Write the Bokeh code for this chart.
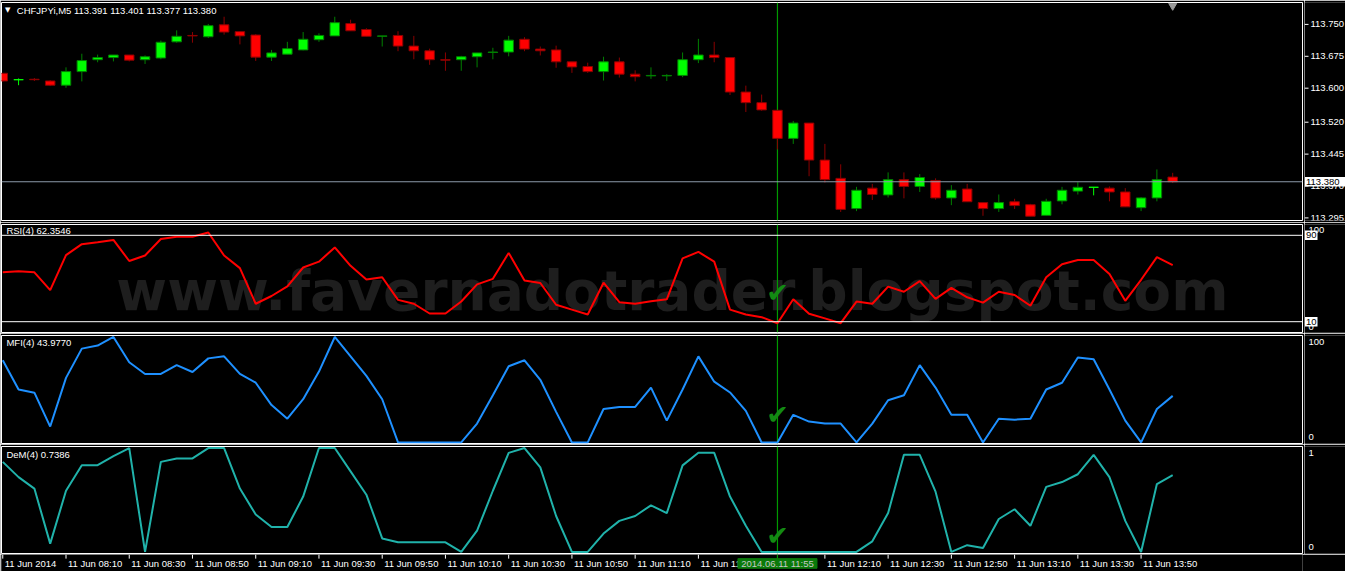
from bokeh.plotting import figure
from bokeh.models import Range1d, Span, Label
from bokeh.layouts import column, row
from bokeh.embed import file_html
from bokeh.resources import INLINE
from bokeh.core.properties import value

# ---------------- data ----------------
symbol = "CHFJPYi,M5"
bar_open = [113.635, 113.620, 113.621, 113.617, 113.607, 113.639, 113.667, 113.672, 113.678, 113.667,
            113.671, 113.709, 113.724, 113.721, 113.749, 113.733, 113.725, 113.673, 113.680, 113.690,
            113.714, 113.723, 113.752, 113.738, 113.722, 113.724, 113.699, 113.688, 113.667, 113.667,
            113.674, 113.684, 113.685, 113.715, 113.692, 113.690, 113.662, 113.651, 113.639, 113.662,
            113.633, 113.629, 113.629, 113.630, 113.667, 113.678, 113.672, 113.591, 113.566, 113.548,
            113.482, 113.518, 113.431, 113.388, 113.317, 113.365, 113.349, 113.385, 113.369, 113.383,
            113.342, 113.363, 113.331, 113.317, 113.333, 113.326, 113.301, 113.335, 113.358, 113.367,
            113.365, 113.356, 113.319, 113.342, 113.391]
bar_high = [113.635, 113.623, 113.624, 113.619, 113.649, 113.681, 113.679, 113.678, 113.678, 113.677,
            113.712, 113.736, 113.732, 113.751, 113.768, 113.733, 113.727, 113.690, 113.709, 113.732,
            113.729, 113.768, 113.761, 113.741, 113.723, 113.734, 113.723, 113.693, 113.684, 113.676,
            113.683, 113.695, 113.723, 113.720, 113.698, 113.700, 113.662, 113.660, 113.674, 113.672,
            113.642, 113.649, 113.633, 113.684, 113.716, 113.709, 113.672, 113.606, 113.585, 113.548,
            113.523, 113.518, 113.469, 113.421, 113.368, 113.375, 113.402, 113.402, 113.398, 113.388,
            113.372, 113.375, 113.331, 113.350, 113.340, 113.328, 113.340, 113.368, 113.379, 113.367,
            113.369, 113.365, 113.344, 113.409, 113.401]
bar_low = [113.615, 113.607, 113.617, 113.605, 113.601, 113.616, 113.661, 113.663, 113.663, 113.657,
           113.668, 113.707, 113.707, 113.718, 113.726, 113.703, 113.664, 113.664, 113.680, 113.689,
           113.709, 113.723, 113.735, 113.722, 113.698, 113.687, 113.668, 113.655, 113.641, 113.641,
           113.649, 113.668, 113.675, 113.687, 113.677, 113.648, 113.636, 113.636, 113.618, 113.625,
           113.616, 113.622, 113.617, 113.626, 113.659, 113.661, 113.584, 113.544, 113.547, 113.456,
           113.469, 113.393, 113.378, 113.309, 113.311, 113.337, 113.343, 113.341, 113.356, 113.338,
           113.325, 113.333, 113.300, 113.309, 113.316, 113.299, 113.301, 113.327, 113.350, 113.348,
           113.334, 113.321, 113.311, 113.334, 113.377]
bar_close = [113.617, 113.620, 113.620, 113.607, 113.639, 113.665, 113.672, 113.678, 113.666, 113.674,
             113.708, 113.722, 113.723, 113.747, 113.732, 113.723, 113.673, 113.683, 113.693, 113.715,
             113.724, 113.754, 113.735, 113.722, 113.723, 113.699, 113.688, 113.667, 113.666, 113.674,
             113.683, 113.685, 113.713, 113.692, 113.688, 113.662, 113.650, 113.639, 113.662, 113.633,
             113.627, 113.630, 113.630, 113.667, 113.678, 113.672, 113.591, 113.566, 113.549, 113.482,
             113.518, 113.431, 113.385, 113.315, 113.360, 113.350, 113.385, 113.369, 113.390, 113.342,
             113.360, 113.333, 113.317, 113.331, 113.324, 113.299, 113.334, 113.360, 113.367, 113.367,
             113.356, 113.321, 113.342, 113.385, 113.380]
rsi = [55.7, 56.6, 55.7, 39.2, 71.6, 81.8, 83.6, 85.7, 66.2, 71.3,
       86.6, 88.7, 88.7, 92.6, 71.3, 59.6, 26.6, 33.8, 42.8, 60.2,
       65.6, 78.8, 61.7, 49.1, 51.2, 30.2, 26.6, 17.6, 17.6, 28.7,
       44.6, 49.7, 73.7, 48.2, 45.8, 25.7, 21.2, 16.7, 46.1, 28.1,
       26.6, 28.9, 30.7, 68.6, 74.6, 65.6, 21.2, 16.7, 14.2, 8.6,
       30.8, 17.3, 13.1, 8.6, 28.6, 26.6, 42.5, 37.7, 47.6, 31.1,
       41.3, 32.6, 27.7, 37.7, 34.7, 24.8, 51.2, 63.2, 67.1, 67.1,
       54.2, 29.3, 48.8, 69.8, 62.3546]
mfi = [77.6, 50.0, 47.0, 15.0, 61.0, 88.6, 91.5, 99.6, 75.7, 64.7,
       64.7, 73.0, 66.5, 79.4, 81.3, 64.7, 56.4, 35.3, 22.4, 40.8,
       66.9, 99.6, 81.3, 62.9, 40.8, 0.0, 0.0, 0.0, 0.0, 0.0,
       17.8, 44.5, 72.0, 77.6, 59.2, 28.9, 0.0, 0.0, 31.6, 33.5,
       33.5, 51.8, 20.6, 50.0, 81.3, 57.4, 47.2, 29.8, 0.0, 0.0,
       26.1, 19.7, 17.8, 17.8, 0.0, 17.8, 39.9, 44.5, 73.0, 51.8,
       26.1, 26.1, 0.0, 22.4, 21.5, 22.4, 50.0, 56.4, 80.3, 78.5,
       50.0, 20.6, 0.0, 31.6, 43.9770]
dem = [0.867, 0.72, 0.61, 0.08, 0.589, 0.835, 0.835, 0.923, 1.0, 0.0,
       0.867, 0.90, 0.90, 1.0, 1.0, 0.61, 0.36, 0.24, 0.24, 0.533,
       1.0, 1.0, 0.776, 0.551, 0.13, 0.093, 0.093, 0.093, 0.093, 0.0,
       0.205, 0.589, 0.954, 1.0, 0.814, 0.346, 0.0, 0.0, 0.177, 0.299,
       0.346, 0.449, 0.374, 0.833, 0.954, 0.954, 0.533, 0.252, 0.0, 0.0,
       0.0, 0.0, 0.0, 0.0, 0.0, 0.102, 0.374, 0.935, 0.935, 0.58,
       0.0, 0.065, 0.037, 0.317, 0.411, 0.252, 0.626, 0.673, 0.748, 0.935,
       0.72, 0.299, 0.0, 0.654, 0.7386]
price_ticks = [113.295, 113.370, 113.445, 113.520, 113.600, 113.675, 113.750]
time_tick_bars = [0, 4, 8, 12, 16, 20, 24, 28, 32, 36, 40, 44, 48, 52, 56, 60, 64, 68, 72]
time_tick_labels = ["11 Jun 2014", "11 Jun 08:10", "11 Jun 08:30", "11 Jun 08:50", "11 Jun 09:10",
                    "11 Jun 09:30", "11 Jun 09:50", "11 Jun 10:10", "11 Jun 10:30", "11 Jun 10:50",
                    "11 Jun 11:10", "11 Jun 11:30", "11 Jun 11:50", "11 Jun 12:10", "11 Jun 12:30",
                    "11 Jun 12:50", "11 Jun 13:10", "11 Jun 13:30", "11 Jun 13:50"]
marked_bar = 49
marked_label = "2014.06.11 11:55"
rsi_levels = [90, 10]
watermark = "www.favernadotrader.blogspot.com"

# ---------------- layout helpers ----------------
W = 1345
PW = 1304          # pane figure width (frame 1..1302)
SW = W - PW        # side (price scale) figure width
FONT = "Liberation Sans"
FS = "9.5px"
VCOL = "#009A00"
xr = Range1d(-0.08, 82.21)
n = len(bar_open)
idx = list(range(n))


def bx(px):
    """reference-pixel x -> bar units"""
    return (px - 2.3) / 16.0


def hide_grid(f):
    f.xgrid.visible = False
    f.ygrid.visible = False


def pane(height, top, bottom, yr):
    f = figure(width=PW, height=height, x_range=xr, y_range=yr,
               output_backend="svg", toolbar_location=None,
               x_axis_location=None, y_axis_location=None,
               min_border_left=1, min_border_right=2,
               min_border_top=top, min_border_bottom=bottom,
               background_fill_color="black", border_fill_color="black",
               outline_line_color="white", outline_line_width=1)
    hide_grid(f)
    return f


def side(height, top, bottom, yr):
    s = figure(width=SW, height=height, x_range=Range1d(2, 2 + SW), y_range=yr,
               output_backend="svg", toolbar_location=None,
               x_axis_location=None, y_axis_location=None,
               min_border_left=0, min_border_right=0,
               min_border_top=top, min_border_bottom=bottom,
               background_fill_color="black", border_fill_color="black",
               outline_line_color=None)
    hide_grid(s)
    return s


def scale_text(s, ys, labels, x, color="white"):
    s.text(x=[x] * len(ys), y=ys, text=labels, text_color=color,
           text_font=value(FONT), text_font_size=FS,
           text_align="left", text_baseline="middle")


def value_box(s, y, txt, right, half_h):
    s.quad(left=[2.5], right=[right], top=[y + half_h], bottom=[y - half_h],
           fill_color="white", line_color=None)
    scale_text(s, [y], [txt], 3.5, color="black")


def title(f, text, x, y):
    f.add_layout(Label(x=x, y=y, text=text, text_color="white", text_font=FONT,
                       text_font_size=FS, text_baseline="middle", text_align="left"))


def vline(f, yr):
    f.segment(x0=[marked_bar], y0=[yr.start], x1=[marked_bar], y1=[yr.end],
              line_color=VCOL, line_width=1.2)


def check(f, y):
    f.text(x=[marked_bar], y=[y], text=["\u2714"], text_color="#138A13",
           text_font=value("DejaVu Sans"), text_font_size="27px",
           text_align="center", text_baseline="middle")


# ---------------- price pane ----------------
p_lo, p_hi = 113.2889, 113.8015
yr_p = Range1d(p_lo, p_hi)
pp = pane(222, 2, 2, yr_p)
ppx = (p_hi - p_lo) / 218.0

fill, body_line, wick_col, tops, bots = [], [], [], [], []
for o, c in zip(bar_open, bar_close):
    if c > o:
        fill.append("#00FF00"); body_line.append("#008000"); wick_col.append("#008000")
    elif c < o:
        fill.append("#FF0000"); body_line.append("#8B0000"); wick_col.append("#8B0000")
    else:
        fill.append("#00FF00"); body_line.append("#00FF00"); wick_col.append("#00FF00")
    tops.append(max(o, c)); bots.append(min(o, c))

pp.add_layout(Span(location=bar_close[-1], dimension="width", line_color="#8C9AAA", line_width=1))
vline(pp, yr_p)
pp.segment(x0=idx, y0=bar_low, x1=idx, y1=bar_high, line_color=wick_col, line_width=1)
hw = 0.3
pp.quad(left=[i - hw for i in idx], right=[i + hw for i in idx], top=tops, bottom=bots,
        fill_color=fill, line_color=body_line, line_width=1)
pp.scatter(x=[n - 1], y=[p_hi - 3.2 * ppx], marker="inverted_triangle", size=8,
           fill_color="#9A9A9A", line_color="#9A9A9A")
pp.add_layout(Label(x=bx(4.5), y=p_hi - 7.5 * ppx, text="\u25BC", text_color="white",
                    text_font="DejaVu Sans", text_font_size="7px", text_baseline="middle"))
title(pp, f"{symbol}  {bar_open[-1]:.3f} {bar_high[-1]:.3f} {bar_low[-1]:.3f} {bar_close[-1]:.3f}",
      bx(16.5), p_hi - 7.8 * ppx)

sp = side(222, 2, 2, yr_p)
sp.segment(x0=[2] * len(price_ticks), y0=price_ticks, x1=[6] * len(price_ticks), y1=price_ticks,
           line_color="white", line_width=1)
scale_text(sp, price_ticks, [f"{t:.3f}" for t in price_ticks], 8)
value_box(sp, bar_close[-1], f"{bar_close[-1]:.3f}", 2 + SW, 4.8 * ppx)

# ---------------- RSI pane ----------------
yr_r = Range1d(0, 100)
pr = pane(111, 2, 1, yr_r)
rpx = 100 / 108.0
pr.text(x=[bx(680)], y=[38.5], text=[watermark], text_color="#1E1E1E",
        text_font=value("DejaVu Sans"), text_font_style="bold", text_font_size="55px",
        text_align="center", text_baseline="middle")
for lv in rsi_levels:
    pr.add_layout(Span(location=lv, dimension="width", line_color="white", line_width=1))
vline(pr, yr_r)
pr.line(idx, rsi, line_color="#FF0000", line_width=2)
check(pr, 37.5)
title(pr, f"RSI(4) {rsi[-1]:.4f}", bx(6), 100 - 6.3 * rpx)

sr = side(111, 2, 1, yr_r)
inset = 5.8 * rpx
scale_text(sr, [100 - inset, inset], ["100", "0"], 6)
for lv in rsi_levels:
    value_box(sr, lv, str(lv), 15, 4.8 * rpx)

# ---------------- MFI pane ----------------
yr_m = Range1d(-1, 101)
pm = pane(111, 2, 1, yr_m)
mpx = 102 / 108.0
vline(pm, yr_m)
pm.line(idx, mfi, line_color="#1E90FF", line_width=2)
check(pm, 26)
title(pm, f"MFI(4) {mfi[-1]:.4f}", bx(6), 101 - 7.2 * mpx)

sm = side(111, 2, 1, yr_m)
inset = 6.5 * mpx
scale_text(sm, [101 - inset, -1 + inset], ["100", "0"], 6)

# ---------------- DeMarker pane ----------------
yr_d = Range1d(-0.015, 1.015)
pd_ = pane(110, 2, 1, yr_d)
dpx = 1.03 / 107.0
vline(pd_, yr_d)
pd_.line(idx, dem, line_color="#20B2AA", line_width=2)
check(pd_, 0.16)
title(pd_, f"DeM(4) {dem[-1]:.4f}", bx(6), 1.015 - 7.5 * dpx)

sd = side(110, 2, 1, yr_d)
inset = 6.2 * dpx
scale_text(sd, [1.015 - inset, -0.015 + inset], ["1", "0"], 6)

# ---------------- time axis ----------------
yr_t = Range1d(18.5, 0)
ft = figure(width=W, height=17, x_range=xr, y_range=yr_t,
            output_backend="svg", toolbar_location=None,
            x_axis_location=None, y_axis_location=None,
            min_border_left=1, min_border_right=W - 1302, min_border_top=0, min_border_bottom=0,
            background_fill_color="black", border_fill_color="black", outline_line_color=None)
hide_grid(ft)
shown = [(b, t) for b, t in zip(time_tick_bars, time_tick_labels) if abs(b - marked_bar) > 2.5]
ft.segment(x0=[b for b, _ in shown], y0=[0] * len(shown), x1=[b for b, _ in shown], y1=[4.5] * len(shown),
           line_color="white", line_width=1)
ft.text(x=[b for b, _ in shown], y=[10] * len(shown), text=[t for _, t in shown], x_offset=2,
        text_color="white", text_font=value(FONT), text_font_size=FS,
        text_align="left", text_baseline="middle")
ft.segment(x0=[marked_bar], y0=[0], x1=[marked_bar], y1=[4.5], line_color=VCOL, line_width=1.2)
ft.quad(left=[marked_bar - 2.5], right=[marked_bar + 2.5], top=[4.5], bottom=[15],
        fill_color="#0A7A0A", line_color="#0A7A0A")
ft.text(x=[marked_bar], y=[10], text=[marked_label], text_color="#C8C8C8",
        text_font=value(FONT), text_font_size=FS, text_align="center", text_baseline="middle")

layout = column(row(pp, sp, spacing=0), row(pr, sr, spacing=0), row(pm, sm, spacing=0),
                row(pd_, sd, spacing=0), ft, spacing=0)
open("out.html", "w").write(file_html(layout, INLINE))
